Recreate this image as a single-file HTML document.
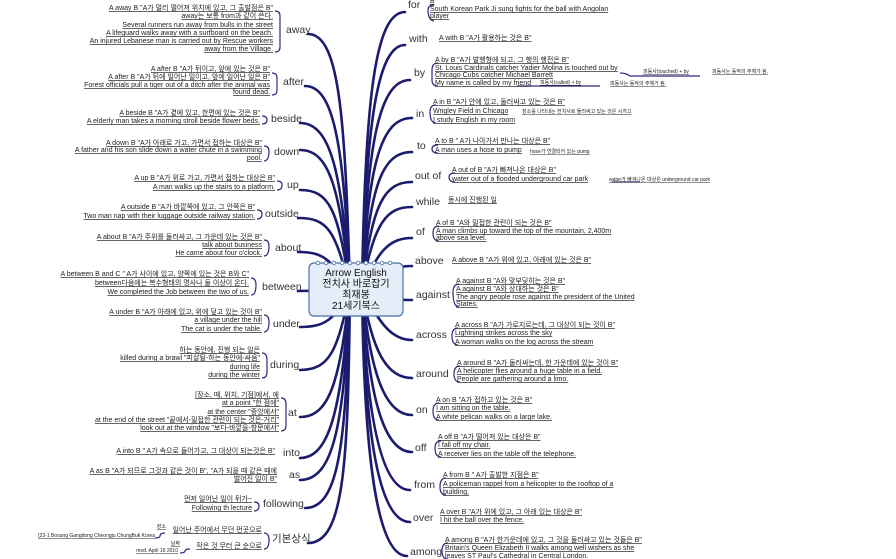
<!DOCTYPE html>
<html><head><meta charset="utf-8">
<style>
html,body{margin:0;padding:0;background:#fff;}
svg{display:block;}
.t{font-family:"Liberation Sans","Noto Sans CJK KR",sans-serif;font-size:7px;fill:#222;text-decoration:underline;}
.e{text-anchor:end;}
.s{font-size:5px;}
.b{font-family:"Liberation Sans","Noto Sans CJK KR",sans-serif;font-size:10.5px;fill:#333;}
.br{fill:none;stroke:#1c1c6e;stroke-width:2.6;stroke-linecap:round;}
.k{fill:none;stroke:#2a2a80;stroke-width:1.2;}
.c{font-family:"Liberation Sans","Noto Sans CJK KR",sans-serif;font-size:10px;fill:#111;text-anchor:middle;}
</style></head>
<body>
<svg width="896" height="559" viewBox="0 0 896 559" xmlns="http://www.w3.org/2000/svg">
<!-- branches left -->
<g class="br">
<path d="M350 289 C345 120 340 34 308 34"/>
<path d="M350 289 C344 150 335 86 305 86"/>
<path d="M350 289 C342 170 330 123 300 123"/>
<path d="M350 289 C340 190 330 150 300 150"/>
<path d="M350 289 C338 210 330 190 300 190"/>
<path d="M350 289 C335 230 328 218 298 218"/>
<path d="M350 289 C330 260 325 252 298 252"/>
<path d="M350 289 C330 290 320 291 298 291"/>
<path d="M350 289 C335 320 325 327 300 327"/>
<path d="M350 289 C338 350 330 370 300 370"/>
<path d="M350 289 C340 380 330 417 300 417"/>
<path d="M350 289 C342 400 332 458 300 458"/>
<path d="M350 289 C344 420 335 480 300 480"/>
<path d="M350 289 C346 440 340 508 305 508"/>
<path d="M350 289 C348 460 345 543 308 543"/>
<!-- right -->
<path d="M362 289 C365 100 375 12 405 12"/>
<path d="M362 289 C366 120 378 45 405 45"/>
<path d="M362 289 C367 140 380 80 410 80"/>
<path d="M362 289 C368 160 382 118 412 118"/>
<path d="M362 289 C370 180 384 152 412 152"/>
<path d="M362 289 C372 200 386 182 412 182"/>
<path d="M362 289 C374 220 388 207 412 207"/>
<path d="M362 289 C378 250 390 238 412 238"/>
<path d="M362 289 C385 270 395 266 412 266"/>
<path d="M362 289 C385 300 395 300 412 300"/>
<path d="M362 289 C378 320 390 340 412 340"/>
<path d="M362 289 C372 350 386 378 412 378"/>
<path d="M362 289 C370 370 384 415 412 415"/>
<path d="M362 289 C368 390 382 452 412 452"/>
<path d="M362 289 C366 410 380 490 410 490"/>
<path d="M362 289 C365 430 378 522 410 522"/>
<path d="M362 289 C364 450 376 556 407 556"/>
</g>
<!-- brackets left -->
<g class="k">
<path d="M275 11 Q280 11 280 16 L280 47 Q280 52 275 52"/>
<path d="M272 73 Q277 73 277 78 L277 90 Q277 95 272 95"/>
<path d="M262 116 Q267 116 267 120 Q267 124 262 124"/>
<path d="M264 146 Q269 146 269 151 Q269 161 264 161"/>
<path d="M277 181 Q282 181 282 185 Q282 190 277 190"/>
<path d="M257 210 Q262 210 262 214 Q262 219 257 219"/>
<path d="M264 240 Q269 240 269 246 Q269 256 264 256"/>
<path d="M251 278 Q256 278 256 285 Q256 295 251 295"/>
<path d="M264 315 Q269 315 269 322 Q269 332 264 332"/>
<path d="M262 353 Q267 353 267 360 L267 372 Q267 378 262 378"/>
<path d="M281 398 Q286 398 286 404 L286 425 Q286 431 281 431"/>
<path d="M254 502 Q259 502 259 506 Q259 511 254 511"/>
<path d="M264 533 Q269 533 269 540 Q269 549 264 549"/>
<path d="M165 533 Q160 533 160 536 Q160 538 155 538"/>
<path d="M190 549 Q185 549 185 551 Q185 553 180 553"/>
</g>
<!-- brackets right -->
<g class="k">
<path d="M434 5 Q428 5 428 10 Q428 20 434 21"/>
<path d="M438 63 Q432 63 432 70 L432 80 Q432 86 438 86"/>
<path d="M436 105 Q430 105 430 112 Q430 123 436 123"/>
<path d="M438 145 Q432 145 432 149 Q432 153 438 153"/>
<path d="M455 173 Q449 173 449 177 Q449 182 455 182"/>
<path d="M439 226 Q433 226 433 233 Q433 241 439 241"/>
<path d="M459 284 Q453 284 453 292 Q453 307 459 307"/>
<path d="M458 328 Q452 328 452 336 Q452 345 458 345"/>
<path d="M460 366 Q454 366 454 374 Q454 382 460 382"/>
<path d="M439 403 Q433 403 433 411 Q433 420 439 420"/>
<path d="M441 441 Q435 441 435 448 Q435 457 441 457"/>
<path d="M446 478 Q440 478 440 487 Q440 495 446 495"/>
<path d="M448 543 Q442 543 442 551 Q442 559 448 559"/>
<path d="M612 182 L640 182"/>
<path d="M620 73 Q626 73 630 76 L700 76"/>
<path d="M517 86 L600 86"/>
</g>
<!-- center box -->
<rect x="309" y="263" width="94" height="53" rx="5" fill="#e4edf8" stroke="#4a70a8" stroke-width="1.2"/>
<g fill="#fff" stroke="#4a70a8" stroke-width="0.8">
<circle cx="318" cy="263" r="1.8"/><circle cx="326" cy="263" r="1.8"/><circle cx="334" cy="263" r="1.8"/><circle cx="342" cy="263" r="1.8"/><circle cx="350" cy="263" r="1.8"/><circle cx="358" cy="263" r="1.8"/><circle cx="366" cy="263" r="1.8"/><circle cx="374" cy="263" r="1.8"/><circle cx="382" cy="263" r="1.8"/><circle cx="390" cy="263" r="1.8"/>
</g>
<text class="c" x="356" y="276">Arrow English</text>
<text class="c" x="356" y="287">전치사 바로잡기</text>
<text class="c" x="356" y="298">최재봉</text>
<text class="c" x="356" y="309">21세기북스</text>
<!-- branch labels -->
<g class="b">
<text x="286" y="33">away</text><text x="283" y="85">after</text><text x="271" y="122">beside</text><text x="274" y="155">down</text>
<text x="287" y="188">up</text><text x="265" y="217">outside</text><text x="275" y="251">about</text><text x="262" y="290">between</text>
<text x="273" y="327">under</text><text x="270" y="368">during</text><text x="288" y="416">at</text><text x="283" y="456">into</text>
<text x="289" y="478">as</text><text x="263" y="507">following</text><text x="272" y="542">기본상식</text>
<text x="408" y="8">for</text><text x="409" y="42">with</text><text x="414" y="76">by</text><text x="416" y="117">in</text>
<text x="417" y="149">to</text><text x="415" y="179">out of</text><text x="416" y="205">while</text><text x="416" y="235">of</text>
<text x="415" y="264">above</text><text x="416" y="298">against</text><text x="416" y="338">across</text><text x="416" y="377">around</text>
<text x="416" y="413">on</text><text x="415" y="451">off</text><text x="414" y="488">from</text><text x="413" y="521">over</text><text x="410" y="555">among</text>
</g>
<!-- left leaves -->
<g class="t e">
<text x="273" y="10">A away B "A가 멀리 떨어져 위치에 있고, 그 출발점은 B"</text>
<text x="273" y="18">away는 보통 from과 같이 쓴다.</text>
<text x="273" y="27">Several runners run away from bulls in the street</text>
<text x="273" y="35">A lifeguard walks away with a surfboard on the beach.</text>
<text x="273" y="43" style="text-decoration:none">An injured Lebanese man is carried out by Rescue workers</text>
<text x="273" y="51">away from the Village.</text>
<text x="270" y="71">A after B "A가 뒤이고, 앞에 있는 것은 B"</text>
<text x="270" y="79">A after B "A가 뒤에 일어난 일이고, 앞에 일어난 일은 B"</text>
<text x="270" y="87" style="text-decoration:none">Forest officials pull a tiger out of a ditch after the animal was</text>
<text x="270" y="94">found dead.</text>
<text x="260" y="115">A beside B "A가 곁에 있고, 한편에 있는 것은 B"</text>
<text x="260" y="123">A elderly man takes a morning stroll beside flower beds.</text>
<text x="262" y="145">A down B "A가 아래로 가고, 가면서 접하는 대상은 B"</text>
<text x="262" y="152" style="text-decoration:none">A father and his son slide down a water chute in a swimming</text>
<text x="262" y="160">pool.</text>
<text x="275" y="180">A up B "A가 위로 가고, 가면서 접하는 대상은 B"</text>
<text x="275" y="189">A man walks up the stairs to a platform.</text>
<text x="255" y="209">A outside B "A가 바깥쪽에 있고, 그 안쪽은 B"</text>
<text x="255" y="218">Two man nap with their luggage outside railway station.</text>
<text x="262" y="239">A about B "A가 주위를 둘러싸고, 그 가운데 있는 것은 B"</text>
<text x="262" y="247">talk about business</text>
<text x="262" y="255">He came about four o'clock.</text>
<text x="249" y="276">A between B and C " A가 사이에 있고, 양쪽에 있는 것은 B와 C"</text>
<text x="249" y="285">between다음에는 복수형태의 명사나 둘 이상이 온다.</text>
<text x="249" y="294">We completed the Job between the two of us.</text>
<text x="262" y="314">A under B "A가 아래에 있고, 위에 덮고 있는 것이 B"</text>
<text x="262" y="322">a village under the hill</text>
<text x="262" y="331">The cat is under the table.</text>
<text x="260" y="352">하는 동안에, 진행 되는 일은</text>
<text x="260" y="360">killed during a brawl "피살될-하는 동안에-싸움"</text>
<text x="260" y="369">during life</text>
<text x="260" y="377">during the winter</text>
<text x="279" y="397">[장소, 때, 위치, 기점]에서, 에</text>
<text x="279" y="405">at a point "한 점에"</text>
<text x="279" y="414">at the center "중앙에서"</text>
<text x="279" y="422">at the end of the street "끝에서-밀접한 관련이 되는 것은-거리"</text>
<text x="279" y="430">look out at the window "보다-바깥을-창문에서"</text>
<text x="275" y="453">A into B " A가 속으로 들어가고, 그 대상이 되는것은 B"</text>
<text x="277" y="473" style="text-decoration:none">A as B "A가 되므로 그것과 같은 것이 B", "A가 되을 때 같은 때에</text>
<text x="277" y="481">벌어진 일이 B"</text>
<text x="252" y="501">먼저 일어난 일이 뒤가~</text>
<text x="252" y="510">Following th lecture</text>
<text x="262" y="532">일어난 주어에서 무던 먼곳으로</text>
<text x="262" y="548">작은 것 무터 큰 순으로</text>
<text x="155" y="537" class="t e s">[23-1 Bosung Gangdong Cheongju ChungBuk Korea</text>
<text x="178" y="552" class="t e s">mod. April 16 2010</text>
<text x="166" y="528" class="t e s">장소</text>
<text x="180" y="545" class="t e s">날짜</text>
</g>
<!-- right leaves -->
<g class="t">
<text x="430" y="3">B</text>
<text x="430" y="11" style="text-decoration:none">South Korean Park Ji sung fights for the ball with Angolan</text>
<text x="430" y="18">player</text>
<text x="439" y="40">A with B "A가 활용하는 것은 B"</text>
<text x="435" y="62">A by B "A가 발행형에 되고, 그 행의 행전은 B"</text>
<text x="435" y="70" style="text-decoration:none">St. Louis Cardinals catcher Yadier Molina is touched out by</text>
<text x="435" y="77">Chicago Cubs catcher Michael Barrett</text>
<text x="435" y="85">My name is called by my friend</text>
<text x="643" y="73" class="t s">피동사(touched) + by</text>
<text x="712" y="73" class="t s">피동사는 동작의 주체가 됨.</text>
<text x="540" y="84" class="t s">피동사(called) + by</text>
<text x="610" y="85" class="t s">피동사는 동작의 주체가 됨.</text>
<text x="433" y="104">A in B "A가 안에 있고, 둘러싸고 있는 것은 B"</text>
<text x="433" y="113">Wrigley Field in Chicago</text>
<text x="522" y="113" class="t s">장소를 나타내는 전치사로 둘러싸고 있는 것은 시카고</text>
<text x="433" y="122">I study English in my room</text>
<text x="435" y="143">A to B " A가 나아가서 만나는 대상은 B"</text>
<text x="435" y="152">A man uses a hose to pump</text>
<text x="530" y="153" class="t s">hose가 연결되어 있는 pump</text>
<text x="452" y="172">A out of B "A가 빠져나온 대상은 B"</text>
<text x="452" y="181">water out of a flooded underground car park</text>
<text x="609" y="181" class="t s">water가 빠져나온 대상은 underground car park</text>
<text x="448" y="202">동시에 진행된 일</text>
<text x="436" y="225">A of B "A와 밀접한 관련이 되는 것은 B"</text>
<text x="436" y="233" style="text-decoration:none">A man climbs up toward the top of the mountain, 2,400m</text>
<text x="436" y="240">above sea level.</text>
<text x="452" y="262">A above B "A가 위에 있고, 아래에 있는 것은 B"</text>
<text x="456" y="283">A against B "A와 맞부딪히는 것은 B"</text>
<text x="456" y="291">A against B "A와 상대하는 것은 B"</text>
<text x="456" y="299" style="text-decoration:none">The angry people rose against the president of the United</text>
<text x="456" y="306">States.</text>
<text x="455" y="327">A across B "A가 가로지르는데, 그 대상이 되는 것이 B"</text>
<text x="455" y="335">Lightning strikes across the sky</text>
<text x="455" y="344">A woman walks on the log across the stream</text>
<text x="457" y="365">A around B "A가 둘러싸는데, 한 가운데에 있는 것이 B"</text>
<text x="457" y="373">A helicopter flies around a huge table in a field.</text>
<text x="457" y="381">People are gathering around a limo.</text>
<text x="436" y="402">A on B "A가 접하고 있는 것은 B"</text>
<text x="436" y="410">I am sitting on the table.</text>
<text x="436" y="419">A white pelican walks on a large lake.</text>
<text x="438" y="439">A off B "A가 떨어져 있는 대상은 B"</text>
<text x="438" y="447">I fall off my chair.</text>
<text x="438" y="456">A receiver lies on the table off the telephone.</text>
<text x="443" y="477">A from B " A가 출발한 지점은 B"</text>
<text x="443" y="486" style="text-decoration:none">A policeman rappel from a helicopter to the rooftop of a</text>
<text x="443" y="494">building.</text>
<text x="440" y="514">A over B "A가 위에 있고, 그 아래 있는 대상은 B"</text>
<text x="440" y="522">I hit the ball over the fence.</text>
<text x="445" y="542">A among B "A가 한가운데에 있고, 그 것을 둘러싸고 있는 것들은 B"</text>
<text x="445" y="550" style="text-decoration:none">Britain's Queen Elizabeth II walks among well wishers as she</text>
<text x="445" y="558" style="text-decoration:none">leaves ST Paul's Cathedral in Central London.</text>
</g>
</svg>
</body></html>
